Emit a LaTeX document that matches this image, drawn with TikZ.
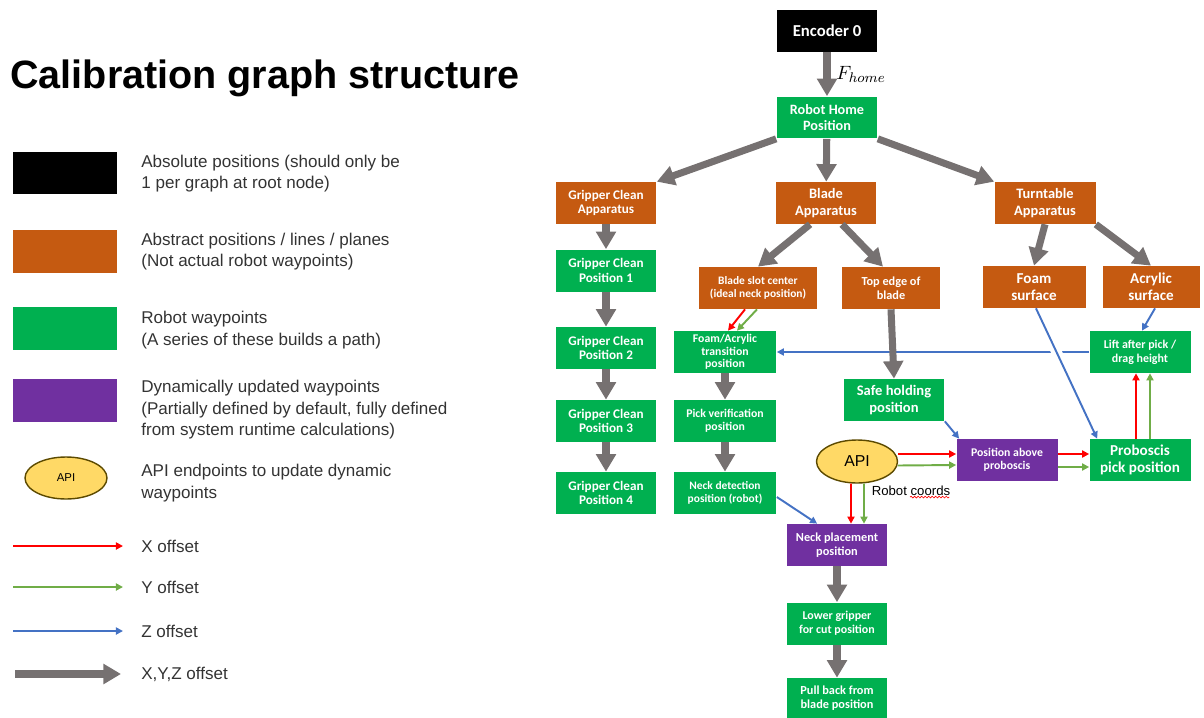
\documentclass[tikz,border=0pt]{standalone}
\usepackage{fontspec}
\setmainfont{Liberation Sans}
\newfontfamily\boxfont{Carlito}
\usetikzlibrary{arrows.meta, shapes.geometric, decorations.pathmorphing}

\definecolor{absblack}{HTML}{000000}
\definecolor{absorange}{HTML}{C55A11}
\definecolor{waygreen}{HTML}{00B050}
\definecolor{dynpurple}{HTML}{7030A0}
\definecolor{apiyellow}{HTML}{FFD966}
\definecolor{apiedge}{HTML}{5C4A00}
\definecolor{xyzgray}{HTML}{767171}
\definecolor{xred}{HTML}{FF0000}
\definecolor{ygreen}{HTML}{70AD47}
\definecolor{zblue}{HTML}{4472C4}
\definecolor{legtextgray}{HTML}{333333}

\begin{document}
\begin{tikzpicture}[
  x=0.02cm, y=-0.02cm,
  every node/.style={font=\fontsize{9.7}{12.2}\selectfont},
  box/.style={
    rectangle, minimum width=2.02cm, minimum height=0.84cm,
    inner sep=1pt, align=center, text=white,
    font=\boxfont\bfseries\fontsize{7.5}{8.4}\selectfont
  },
  abspos/.style={box, fill=absblack},
  abstract/.style={box, fill=absorange},
  waypoint/.style={box, fill=waygreen},
  dynamic/.style={box, fill=dynpurple},
  api/.style={ellipse, draw=apiedge, line width=0.8pt, fill=apiyellow,
              minimum width=1.62cm, minimum height=0.86cm, inner sep=0pt,
              text=black, font=\fontsize{9}{10}\selectfont},
  legtext/.style={anchor=west, align=left, inner sep=0pt, text=legtextgray,
                  font=\fontsize{9.7}{12.2}\selectfont},
  xyz/.style={-{Triangle[length=10pt, width=11pt]}, line width=4pt, xyzgray},
  xoff/.style={-{Triangle[length=4pt, width=4pt]}, line width=1.1pt, xred},
  yoff/.style={-{Triangle[length=4pt, width=4pt]}, line width=1.1pt, ygreen},
  zoff/.style={-{Triangle[length=4pt, width=4pt]}, line width=1.1pt, zblue}
]
\useasboundingbox (0,0) rectangle (1204,717);

%--- Legend ---
\node[anchor=west, inner sep=0pt, font=\bfseries\fontsize{22.5}{27}\selectfont]
      (title) at (10,78) {Calibration graph structure};

\node[abspos,   minimum width=2.08cm, minimum height=0.86cm] (legabs) at (65,173) {};
\node[abstract, minimum width=2.08cm, minimum height=0.86cm] (legabt) at (65,251) {};
\node[waypoint, minimum width=2.08cm, minimum height=0.86cm] (legway) at (65,328) {};
\node[dynamic,  minimum width=2.08cm, minimum height=0.86cm] (legdyn) at (65,400) {};
\node[api, minimum width=1.64cm, minimum height=0.84cm,
      font=\fontsize{6.5}{7}\selectfont]                     (legapi) at (66,478) {API};

\node[legtext] (legabstxt) at (141,173.5) {Absolute positions (should only be\\1 per graph at root node)};
\node[legtext] (legabttxt) at (141,251.5) {Abstract positions / lines / planes\\(Not actual robot waypoints)};
\node[legtext] (legwaytxt) at (141,330)   {Robot waypoints\\(A series of these builds a path)};
\node[legtext] (legdyntxt) at (141,410)   {Dynamically updated waypoints\\(Partially defined by default, fully defined\\from system runtime calculations)};
\node[legtext] (legapitxt) at (141,483)   {API endpoints to update dynamic\\waypoints};

\coordinate (xs) at (13,546);  \coordinate (xe) at (123,546);
\coordinate (ys) at (13,587);  \coordinate (ye) at (123,587);
\coordinate (zs) at (13,631);  \coordinate (ze) at (123,631);
\coordinate (gs) at (15,674);  \coordinate (ge) at (121,674);

\node[legtext] (legxtxt) at (141,546) {X offset};
\node[legtext] (legytxt) at (141,587) {Y offset};
\node[legtext] (legztxt) at (141,631) {Z offset};
\node[legtext] (leggtxt) at (141,674) {X,Y,Z offset};

\draw[xoff] (xs) -- (xe);
\draw[yoff] (ys) -- (ye);
\draw[zoff] (zs) -- (ze);
\draw[xyz]  (gs) -- (ge);

%--- Graph nodes (explicit placement) ---
\node[abspos, font=\boxfont\bfseries\fontsize{9.5}{10}\selectfont]
                                           (enc)    at (827,31)    {Encoder 0};
\node[waypoint, font=\boxfont\bfseries\fontsize{8.1}{9.2}\selectfont]
                                           (home)   at (827,117.5) {Robot Home\\Position};

\node[abstract]                            (gca)    at (606,203)   {Gripper Clean\\Apparatus};
\node[abstract, font=\boxfont\bfseries\fontsize{8.2}{9.3}\selectfont]
                                           (blade)  at (826,203)   {Blade\\Apparatus};
\node[abstract, font=\boxfont\bfseries\fontsize{8.2}{9.3}\selectfont]
                                           (turn)   at (1045,203)  {Turntable\\Apparatus};

\node[waypoint]                            (gcp1)   at (606,270.5) {Gripper Clean\\Position 1};
\node[waypoint]                            (gcp2)   at (606,348)   {Gripper Clean\\Position 2};
\node[waypoint]                            (gcp3)   at (606,421)   {Gripper Clean\\Position 3};
\node[waypoint]                            (gcp4)   at (606,493)   {Gripper Clean\\Position 4};

\node[abstract, minimum width=2.38cm, font=\boxfont\bfseries\fontsize{6.5}{7.6}\selectfont]
                                           (slot)   at (758,288)   {Blade slot center\\(ideal neck position)};
\node[abstract, minimum width=1.96cm, font=\boxfont\bfseries\fontsize{7}{8}\selectfont]
                                           (top)    at (891,288)   {Top edge of\\blade};
\node[abstract, minimum width=2.06cm, font=\boxfont\bfseries\fontsize{8.6}{9.6}\selectfont]
                                           (foam)   at (1034,287)  {Foam\\surface};
\node[abstract, minimum width=1.94cm, font=\boxfont\bfseries\fontsize{8.6}{9.6}\selectfont]
                                           (acryl)  at (1151,287)  {Acrylic\\surface};

\node[waypoint, font=\boxfont\bfseries\fontsize{6.8}{7.8}\selectfont]
                                           (lift)   at (1140,352)  {Lift after pick /\\drag height};
\node[waypoint, minimum width=2.06cm, font=\boxfont\bfseries\fontsize{6.7}{7.2}\selectfont]
                                           (trans)  at (725,352)   {Foam/Acrylic\\transition\\position};
\node[waypoint, minimum width=2.06cm, font=\boxfont\bfseries\fontsize{6.7}{7.7}\selectfont]
                                           (pickv)  at (725,421)   {Pick verification\\position};
\node[waypoint, minimum width=2.06cm, font=\boxfont\bfseries\fontsize{6.5}{7.5}\selectfont]
                                           (detect) at (725,493)   {Neck detection\\position (robot)};

\node[waypoint, font=\boxfont\bfseries\fontsize{8.3}{9.4}\selectfont]
                                           (safe)   at (894,400)   {Safe holding\\position};
\node[api]                                 (api)    at (857,461.5) {API};
\node[dynamic, font=\boxfont\bfseries\fontsize{6.7}{7.7}\selectfont]
                                           (above)  at (1007,460)  {Position above\\proboscis};
\node[waypoint, font=\boxfont\bfseries\fontsize{8.6}{9.6}\selectfont]
                                           (prob)   at (1140,460)  {Proboscis\\pick position};
\node[inner sep=0.5pt, text=black, font=\fontsize{7.5}{8}\selectfont]
                                           (rc)     at (911,491)   {Robot coords};

\node[dynamic, font=\boxfont\bfseries\fontsize{7}{8}\selectfont]
                                           (neckpl) at (837,545)   {Neck placement\\position};
\node[waypoint, font=\boxfont\bfseries\fontsize{6.8}{7.8}\selectfont]
                                           (lower)  at (837,623.5) {Lower gripper\\for cut position};
\node[waypoint, minimum height=0.8cm, font=\boxfont\bfseries\fontsize{7}{8}\selectfont]
                                           (pull)   at (837,698)   {Pull back from\\blade position};

% spell-check squiggle under "coords"
\draw[xred, line width=0.35pt, decorate,
      decoration={snake, amplitude=0.5pt, segment length=2pt}]
  ([xshift=-0.02cm]rc.south) -- ([xshift=-0.04cm]rc.south east);

%--- Z offsets (drawn first, so the gray arrows sit on top) ---
\path[zoff]
  (lift) edge (trans)
  ([yshift=-0.08cm]detect.east) edge ([xshift=0.62cm]neckpl.north west)
  (safe.south east) edge ([xshift=0.06cm]above.north west)
  ([xshift=0.08cm]acryl.south) edge ([xshift=0.04cm]lift.north)
  % Foam -> Proboscis, with a white gap where it crosses the horizontal line
  ([xshift=0.04cm]foam.south) edge[preaction={draw=white, line width=6pt, arrows=-,
                                               shorten <=8pt, shorten >=8pt}]
                              ([xshift=0.16cm]prob.north west);

%--- X offsets ---
\path[xoff]
  ([xshift=-0.26cm]slot.south) edge ([xshift=0.06cm]trans.north)
  ([yshift=0.15cm]api.east)    edge ([yshift=0.12cm]above.west)
  ([yshift=0.12cm]above.east)  edge ([yshift=0.12cm]prob.west)
  ([xshift=-0.08cm]prob.north) edge ([xshift=-0.08cm]lift.south)
  ([xshift=-0.12cm]api.south)  edge ([xshift=0.28cm]neckpl.north);

%--- Y offsets ---
\path[yoff]
  ([xshift=-0.02cm]slot.south) edge ([xshift=0.24cm]trans.north)
  ([yshift=-0.08cm]api.east)   edge ([yshift=-0.1cm]above.west)
  ([yshift=-0.14cm]above.east) edge ([yshift=-0.14cm]prob.west)
  ([xshift=0.2cm]prob.north)   edge ([xshift=0.2cm]lift.south)
  ([xshift=0.14cm]api.south)   edge ([xshift=0.54cm]neckpl.north);

%--- X,Y,Z offsets ---
\path[xyz]
  (enc)  edge node[right, text=black, font=\fontsize{11}{11}\selectfont] {$F_{home}$} (home)
  (home.south west) edge (gca.north east)
  (home) edge (blade)
  (home.south east) edge (turn.north west)
  (gca)  edge (gcp1)
  (gcp1) edge (gcp2)
  (gcp2) edge (gcp3)
  (gcp3) edge (gcp4)
  ([xshift=-0.32cm]blade.south) edge (slot.north)
  ([xshift=0.32cm]blade.south)  edge ([xshift=-0.16cm]top.north)
  (turn.south) edge (foam.north)
  (turn.south east) edge (acryl.north)
  (top.south) edge (safe.north)
  (trans) edge (pickv)
  (pickv) edge (detect)
  (neckpl) edge (lower)
  (lower) edge (pull);

\end{tikzpicture}
\end{document}
